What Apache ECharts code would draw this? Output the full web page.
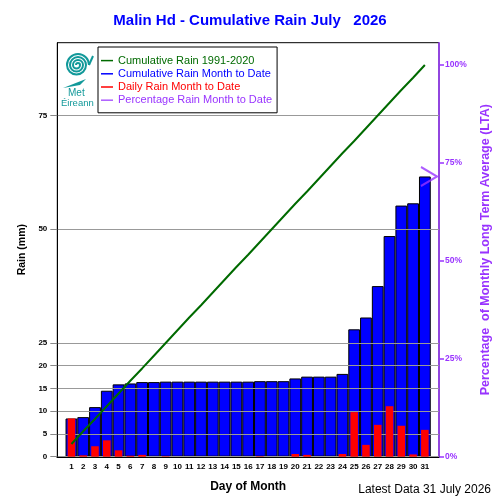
<!DOCTYPE html>
<html><head><meta charset="utf-8">
<script src="https://cdn.jsdelivr.net/npm/echarts@6/dist/echarts.min.js"></script>
<style>html,body{margin:0;padding:0;background:#fff}#c{width:500px;height:500px}</style>
</head><body><div id="c"></div>
<script>
const days = [1,2,3,4,5,6,7,8,9,10,11,12,13,14,15,16,17,18,19,20,21,22,23,24,25,26,27,28,29,30,31];
const cumulativeRain = [8.4,8.7,10.9,14.5,15.9,16.1,16.4,16.4,16.5,16.5,16.5,16.5,16.5,16.5,16.5,16.5,16.6,16.6,16.6,17.2,17.6,17.6,17.6,18.2,28.0,30.6,37.5,48.5,55.2,55.7,61.6];
const dailyRain = [8.4,0.3,2.3,3.6,1.4,0.2,0.4,0,0.1,0,0,0,0,0,0,0,0.1,0,0,0.6,0.4,0,0,0.6,9.8,2.6,7.0,11.1,6.8,0.5,5.9];
const ltaCumulative = [2.8,5.6,8.3,11.1,13.9,16.7,19.4,22.2,25.0,27.8,30.6,33.3,36.1,38.9,41.7,44.4,47.2,50.0,52.8,55.6,58.3,61.1,63.9,66.7,69.4,72.2,75.0,77.8,80.6,83.3,86.1];
const ltaTotal = 86.1;
const leftTicks = [0,5,10,15,20,25,50,75];
const rightTicks = [0,25,50,75,100];
const seriesNames = ['Cumulative Rain 1991-2020','Cumulative Rain Month to Date','Daily Rain Month to Date','Percentage Rain Month to Date'];

const leftMax = 91;
const xMin = -0.2, xMax = 32.2;
const percentNow = cumulativeRain[cumulativeRain.length-1] / ltaTotal * 100;
const FONT = 'Liberation Sans, Arial, Helvetica, sans-serif';
const GREEN = '#006a00', BLUE = '#0000ff', RED = '#ff0000', PURPLE = '#9933ff', TEAL = '#12999a';

// logo spiral arcs: [cx, cy, r, top-half?]
const logoArcs = [[78,65,11,true],[76.5,65,9.5,false],[78,65,8,true],[76.5,65,6.5,false],[78,65,5,true],[76.5,65,3.5,false],[78,65,2,true]];

const legendItem = (name, color) => ({name, icon: 'rect', itemStyle: {color, borderWidth: 0, borderColor: color}, textStyle: {color}});

const chart = echarts.init(document.getElementById('c'));
chart.setOption({
  backgroundColor: '#fff',
  animation: false,
  title: {
    text: 'Malin Hd - Cumulative Rain July   2026',
    left: 'center', top: 8,
    textStyle: {color: BLUE, fontSize: 15, fontWeight: 'bold', fontFamily: FONT}
  },
  legend: {
    orient: 'vertical', left: 98, top: 47,
    padding: [7, 5, 6, 3],
    itemGap: 0, itemWidth: 12, itemHeight: 1.5, icon: 'rect',
    borderColor: '#000', borderWidth: 1, backgroundColor: '#fff',
    selectedMode: false,
    textStyle: {fontSize: 11, fontFamily: FONT, lineHeight: 13.2},
    data: [
      legendItem(seriesNames[0], GREEN),
      legendItem(seriesNames[1], BLUE),
      legendItem(seriesNames[2], RED),
      legendItem(seriesNames[3], PURPLE)
    ],
    z: 20
  },
  grid: {
    left: 57.3, right: 57.7, top: 42.7, bottom: 43.3,
    show: true, borderColor: '#000', borderWidth: 1, backgroundColor: 'transparent'
  },
  xAxis: [{
    type: 'value', min: xMin, max: xMax,
    name: 'Day of Month', nameLocation: 'middle', nameGap: 24,
    nameTextStyle: {color: '#000', fontSize: 12, fontWeight: 'bold', fontFamily: FONT},
    axisLine: {show: true, onZero: false, lineStyle: {color: '#000', width: 2}},
    axisTick: {show: false, customValues: days},
    splitLine: {show: false},
    axisLabel: {customValues: days, color: '#000', fontSize: 8, fontWeight: 'bold', fontFamily: FONT, margin: 6}
  }, {
    type: 'value', min: xMin, max: xMax, show: false
  }],
  yAxis: [{
    type: 'value', min: 0, max: leftMax, position: 'left', z: 3,
    name: 'Rain (mm)', nameLocation: 'middle', nameGap: 28, nameRotate: 90,
    nameTextStyle: {color: '#000', fontSize: 10.5, fontWeight: 'bold', fontFamily: FONT},
    axisLine: {show: true, onZero: false, lineStyle: {color: '#000', width: 1}},
    axisTick: {show: true, customValues: leftTicks, length: 7, inside: false, lineStyle: {color: '#888'}},
    splitLine: {show: true, lineStyle: {color: '#999', width: 1}},
    axisLabel: {customValues: leftTicks, color: '#000', fontSize: 8, fontWeight: 'bold', fontFamily: FONT, margin: 10}
  }, {
    type: 'value', min: 0, max: leftMax / ltaTotal * 100, position: 'right',
    name: 'Percentage  of Monthly Long Term Average (LTA)', nameLocation: 'middle', nameGap: 40, nameRotate: 90,
    nameTextStyle: {color: PURPLE, fontSize: 12.5, fontWeight: 'bold', fontFamily: FONT},
    axisLine: {show: true, onZero: false, lineStyle: {color: PURPLE, width: 1.5}},
    axisTick: {show: true, customValues: rightTicks, length: 5, inside: false, lineStyle: {color: PURPLE, width: 1.5}},
    splitLine: {show: false},
    axisLabel: {customValues: rightTicks, formatter: '{value}%', color: PURPLE, fontSize: 8.5, fontWeight: 'bold', fontFamily: FONT, margin: 6}
  }],
  series: [{
    name: seriesNames[1], type: 'bar', xAxisIndex: 0, yAxisIndex: 0, z: 2,
    barWidth: '100%',
    itemStyle: {color: BLUE, borderColor: '#000', borderWidth: 1},
    data: days.map((d, i) => [d, cumulativeRain[i]])
  }, {
    name: seriesNames[2], type: 'bar', xAxisIndex: 1, yAxisIndex: 0, z: 4,
    barWidth: '64%',
    itemStyle: {color: RED},
    data: days.map((d, i) => [d, dailyRain[i]])
  }, {
    name: seriesNames[0], type: 'line', xAxisIndex: 0, yAxisIndex: 0, z: 5,
    showSymbol: false, symbol: 'none',
    lineStyle: {color: GREEN, width: 2},
    itemStyle: {color: GREEN},
    data: days.map((d, i) => [d, ltaCumulative[i]])
  }, {
    name: seriesNames[3], type: 'scatter', xAxisIndex: 0, yAxisIndex: 1, z: 6, clip: false,
    symbol: 'path://M0,0 L16,9.5 L0,19', symbolSize: [16, 19], symbolOffset: [-10, 0],
    itemStyle: {color: 'none', borderColor: PURPLE, borderWidth: 2},
    data: [[xMax, percentNow]]
  }],
  graphic: logoArcs.map(a => ({
      type: 'arc', z: 30,
      shape: {cx: a[0], cy: a[1], r: a[2], startAngle: a[3] ? Math.PI : 0, endAngle: a[3] ? 2 * Math.PI : Math.PI, clockwise: true},
      style: {fill: 'none', stroke: TEAL, lineWidth: 2}
    })).concat([
    {type: 'line', z: 30, shape: {x1: 89, y1: 65, x2: 93, y2: 56}, style: {stroke: TEAL, lineWidth: 2}},
    {type: 'polygon', z: 30, shape: {points: [[63,88],[86,79],[80,85]]}, style: {fill: TEAL}},
    {type: 'text', z: 30, left: 68, top: 88, style: {text: 'Met', fill: TEAL, fontSize: 10, fontFamily: FONT}},
    {type: 'text', z: 30, left: 61, top: 98.5, style: {text: 'Éireann', fill: TEAL, fontSize: 9.5, fontFamily: FONT}},
    {type: 'text', right: 9, top: 484, style: {text: 'Latest Data 31 July 2026', fill: '#000', fontSize: 12, fontFamily: FONT}}
  ])
});
</script>
</body></html>
